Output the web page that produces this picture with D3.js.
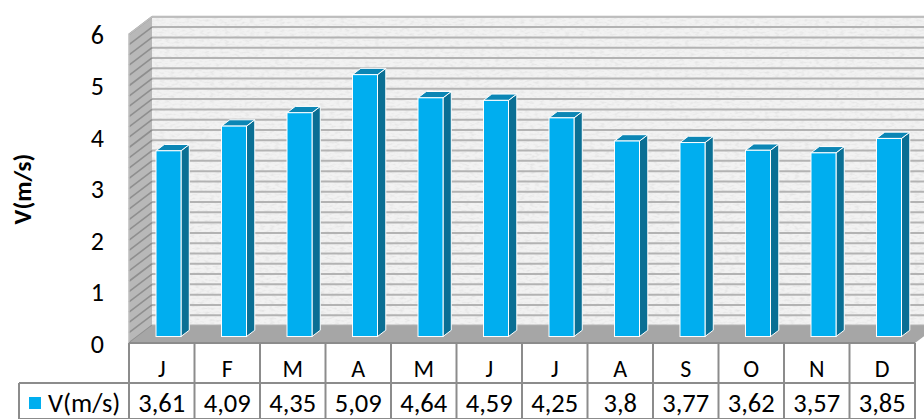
<!DOCTYPE html>
<html>
<head>
<meta charset="utf-8">
<script src="https://cdn.jsdelivr.net/npm/d3@7"></script>
<style>
  html, body { margin: 0; padding: 0; background: #ffffff; }
  svg { display: block; }
  text { font-family: Carlito, Calibri, Lato, "Open Sans", sans-serif; fill: #000; }
</style>
</head>
<body>
<svg id="chart" width="924" height="419"></svg>
<script>
// Monthly mean wind speed
const months = ["J", "F", "M", "A", "M", "J", "J", "A", "S", "O", "N", "D"];
const speeds = [3.61, 4.09, 4.35, 5.09, 4.64, 4.59, 4.25, 3.8, 3.77, 3.62, 3.57, 3.85];
const yTickValues = [0, 1, 2, 3, 4, 5, 6];
const seriesName = "V(m/s)";
const axisTitle = "V(m/s)";

const svg = d3.select("#chart");

// front plane of the 3D box
const plotLeft = 129, plotRight = 915, floorY = 343;
// depth vector (front plane -> back wall)
const depth = { x: 23, y: -17.5 };

const y = d3.scaleLinear().domain([0, 6]).range([floorY, floorY - 6 * 51.45]);
const x = d3.scaleBand().domain(d3.range(months.length)).range([plotLeft, plotRight]);

const comma = d3.formatLocale({ decimal: ",", thousands: ".", grouping: [3], currency: ["", ""] }).format("~g");

const defs = svg.append("defs");

// fine speckle texture for the walls
const tex = defs.append("filter").attr("id", "speckle").attr("x", 0).attr("y", 0).attr("width", 1).attr("height", 1);
tex.append("feTurbulence").attr("type", "fractalNoise").attr("baseFrequency", "0.2 0.5").attr("numOctaves", 2).attr("seed", 7).attr("result", "n");
tex.append("feColorMatrix").attr("in", "n").attr("type", "matrix")
  .attr("values", "0 0 0 0 0.5  0 0 0 0 0.5  0 0 0 0 0.5  0 0 0 -2.6 1.45");
tex.append("feComposite").attr("in2", "SourceGraphic").attr("operator", "in");

const g = svg.append("g");

// back wall
const backTop = y(6) + depth.y, backBottom = floorY + depth.y;
const backLeft = plotLeft + depth.x, backRight = plotRight + depth.x;
g.append("rect")
  .attr("x", backLeft).attr("y", backTop)
  .attr("width", backRight - backLeft).attr("height", backBottom - backTop)
  .attr("fill", "#f2f2f2");
g.append("rect")
  .attr("x", backLeft).attr("y", backTop)
  .attr("width", backRight - backLeft).attr("height", backBottom - backTop)
  .attr("fill", "#000").attr("filter", "url(#speckle)").attr("opacity", 0.22);

// side (left) wall
const sidePts = [[plotLeft, floorY], [plotLeft, y(6)], [backLeft, backTop], [backLeft, backBottom]];
g.append("polygon").attr("points", sidePts.map(p => p.join(",")).join(" ")).attr("fill", "#b8b8b8");
g.append("polygon").attr("points", sidePts.map(p => p.join(",")).join(" "))
  .attr("fill", "#000").attr("filter", "url(#speckle)").attr("opacity", 0.25);

// gridlines on both walls
const gridVals = y.ticks(30);
g.selectAll("line.grid-back").data(gridVals).join("line")
  .attr("class", "grid-back")
  .attr("x1", backLeft).attr("x2", backRight)
  .attr("y1", v => y(v) + depth.y).attr("y2", v => y(v) + depth.y)
  .attr("stroke", "#b3b3b3").attr("stroke-width", 2);
g.selectAll("line.grid-side").data(gridVals).join("line")
  .attr("class", "grid-side")
  .attr("x1", plotLeft).attr("x2", backLeft)
  .attr("y1", v => y(v)).attr("y2", v => y(v) + depth.y)
  .attr("stroke", "#8e8e8e").attr("stroke-width", 1.6);

// floor
const floorPts = [[plotLeft, floorY], [plotRight, floorY], [backRight, backBottom], [backLeft, backBottom]];
g.append("polygon").attr("points", floorPts.map(p => p.join(",")).join(" ")).attr("fill", "#a6a6a6");

// wall edges
g.append("polyline")
  .attr("points", [[plotLeft, floorY], [plotLeft, y(6)], [backLeft, backTop], [backRight, backTop]].map(p => p.join(",")).join(" "))
  .attr("fill", "none").attr("stroke", "#bdbdbd").attr("stroke-width", 1.5);

// 3D columns
const t1 = 0.37, t2 = 0.73;
const barInset = 18.5, barWidth = 25;
const dx1 = depth.x * t1, dy1 = depth.y * t1;
const dw = { x: depth.x * (t2 - t1), y: depth.y * (t2 - t1) };
const pts = a => a.map(p => p.join(",")).join(" ");

const bars = g.selectAll("g.bar").data(speeds).join("g").attr("class", "bar");
bars.each(function (v, i) {
  const b = d3.select(this);
  const fx0 = x(i) + barInset + dx1, fx1 = fx0 + barWidth;
  const yTop = y(v) + dy1, yBot = y(0) + dy1;
  // side
  b.append("polygon")
    .attr("points", pts([[fx1, yTop], [fx1 + dw.x, yTop + dw.y], [fx1 + dw.x, yBot + dw.y], [fx1, yBot]]))
    .attr("fill", "#0a6f94").attr("stroke", "#ffffff").attr("stroke-width", 1).attr("stroke-linejoin", "round");
  // top
  b.append("polygon")
    .attr("points", pts([[fx0, yTop], [fx1, yTop], [fx1 + dw.x, yTop + dw.y], [fx0 + dw.x, yTop + dw.y]]))
    .attr("fill", "#0b86b5").attr("stroke", "#ffffff").attr("stroke-width", 1).attr("stroke-linejoin", "round");
  // front
  b.append("rect")
    .attr("x", fx0).attr("y", yTop).attr("width", barWidth).attr("height", yBot - yTop)
    .attr("fill", "#00aeef").attr("stroke", "#ffffff").attr("stroke-width", 1);
});

// y axis labels
const yAxis = d3.axisLeft(y).tickValues(yTickValues).tickSize(0).tickPadding(0).tickFormat(d3.format("d"));
const ya = svg.append("g").attr("transform", `translate(${104},0)`).call(yAxis);
ya.select(".domain").remove();
ya.selectAll("text")
  .attr("font-size", 26).attr("dy", "0.35em")
  .style("font-family", "Carlito, Calibri, Lato, sans-serif").attr("fill", "#000");

// axis title
svg.append("text")
  .attr("transform", `translate(31,189) rotate(-90)`)
  .attr("text-anchor", "middle")
  .attr("font-size", 25).attr("font-weight", "bold")
  .text(axisTitle);

// data table
const row1Top = floorY, row2Top = 383, row2Bottom = 419;
const legendLeft = 19;
const tbl = svg.append("g").attr("stroke", "#8c8c8c").attr("stroke-width", 2).attr("fill", "none");
tbl.append("line").attr("x1", plotLeft).attr("x2", plotRight).attr("y1", row1Top).attr("y2", row1Top);
tbl.append("line").attr("x1", legendLeft).attr("x2", plotRight).attr("y1", row2Top).attr("y2", row2Top);
tbl.append("line").attr("x1", legendLeft).attr("x2", plotRight).attr("y1", row2Bottom).attr("y2", row2Bottom);
tbl.append("line").attr("x1", legendLeft).attr("x2", legendLeft).attr("y1", row2Top).attr("y2", row2Bottom);
tbl.selectAll("line.col").data(d3.range(months.length + 1)).join("line")
  .attr("class", "col")
  .attr("x1", i => i < months.length ? x(i) : plotRight)
  .attr("x2", i => i < months.length ? x(i) : plotRight)
  .attr("y1", row1Top).attr("y2", row2Bottom);

svg.append("g").selectAll("text").data(months).join("text")
  .attr("x", (d, i) => x(i) + x.bandwidth() / 2)
  .attr("y", 369).attr("dy", "0.35em")
  .attr("text-anchor", "middle").attr("font-size", 24)
  .text(d => d);

svg.append("g").selectAll("text").data(speeds).join("text")
  .attr("x", (d, i) => x(i) + x.bandwidth() / 2)
  .attr("y", 403).attr("dy", "0.35em")
  .attr("text-anchor", "middle").attr("font-size", 26.5)
  .text(d => comma(d));

// legend key inside the table
svg.append("rect").attr("x", 29).attr("y", 397).attr("width", 12).attr("height", 12).attr("fill", "#00aeef");
svg.append("text").attr("x", 48).attr("y", 403).attr("dy", "0.35em")
  .attr("font-size", 26.5).text(seriesName);
</script>
</body>
</html>
